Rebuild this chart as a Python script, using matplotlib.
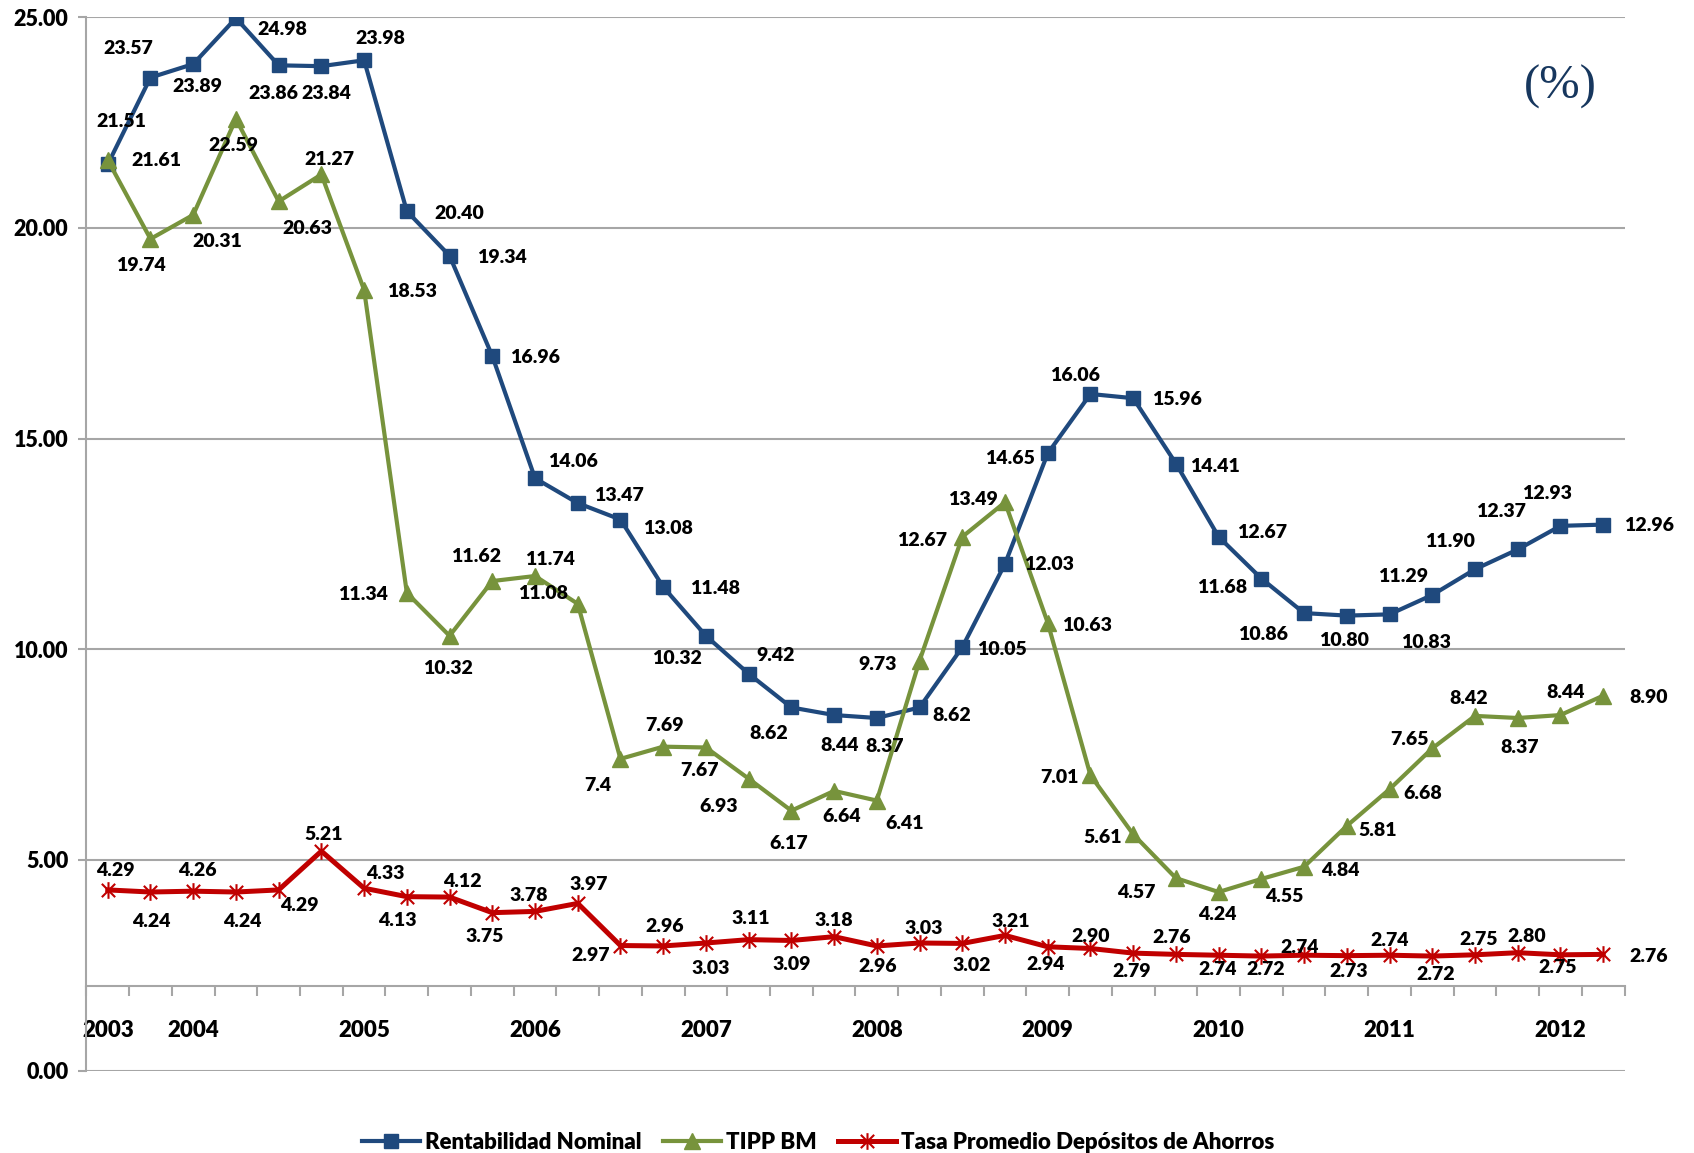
import matplotlib.pyplot as plt
from matplotlib.path import Path

plt.rcParams['font.family'] = ['Lato', 'DejaVu Sans']
plt.rcParams['font.weight'] = 'bold'

# Quarterly series (%)
periods = ['2003', '', '2004', '', '', '', '2005', '', '', '', '2006', '', '', '', '2007', '', '', '',
           '2008', '', '', '', '2009', '', '', '', '2010', '', '', '', '2011', '', '', '', '2012', '']

rentabilidad = [21.51, 23.57, 23.89, 24.98, 23.86, 23.84, 23.98, 20.40, 19.34, 16.96, 14.06, 13.47,
                13.08, 11.48, 10.32, 9.42, 8.62, 8.44, 8.37, 8.62, 10.05, 12.03, 14.65, 16.06,
                15.96, 14.41, 12.67, 11.68, 10.86, 10.80, 10.83, 11.29, 11.90, 12.37, 12.93, 12.96]

tipp = [21.61, 19.74, 20.31, 22.59, 20.63, 21.27, 18.53, 11.34, 10.32, 11.62, 11.74, 11.08,
        7.4, 7.69, 7.67, 6.93, 6.17, 6.64, 6.41, 9.73, 12.67, 13.49, 10.63, 7.01,
        5.61, 4.57, 4.24, 4.55, 4.84, 5.81, 6.68, 7.65, 8.42, 8.37, 8.44, 8.90]

tasa_ahorros = [4.29, 4.24, 4.26, 4.24, 4.29, 5.21, 4.33, 4.13, 4.12, 3.75, 3.78, 3.97,
                2.97, 2.96, 3.03, 3.11, 3.09, 3.18, 2.96, 3.03, 3.02, 3.21, 2.94, 2.90,
                2.79, 2.76, 2.74, 2.72, 2.74, 2.73, 2.74, 2.72, 2.75, 2.80, 2.75, 2.76]

# data label offsets in pixels (dx, dy up)
off_rent = [(14, 43), (-22, 29), (4, -22), (46, -11), (-5, -28), (5, -27), (16, 22), (52, -2), (52, -2),
            (43, -1), (38, 17), (41, 8), (48, -9), (52, -2), (-29, -23), (27, 18), (-23, -26), (6, -30),
            (8, -28), (32, -8), (40, -2), (44, -1), (-38, -5), (-15, 18), (44, -1), (39, -3), (43, 4),
            (-39, -9), (-41, -21), (-3, -25), (36, -28), (-29, 18), (-25, 28), (-17, 38), (-13, 32), (46, -1)]
off_tipp = [(49, 0), (-10, -27), (24, -27), (-3, -27), (29, -27), (8, 15), (48, -2), (-44, -2), (-2, -33),
            (-16, 25), (15, 17), (-35, 10), (-23, -27), (1, 21), (-6, -23), (-30, -28), (-3, -33), (8, -26),
            (28, -23), (-42, -4), (-40, -4), (-32, 3), (39, -3), (-31, -2), (-30, -3), (-40, -14), (-1, -22),
            (23, -18), (36, -4), (31, -5), (33, -4), (-23, 9), (-6, 17), (2, -29), (5, 23), (45, -2)]
off_tasa = [(8, 19), (1, -29), (4, 21), (6, -29), (21, -16), (2, 17), (21, 15), (-9, -24), (13, 16),
            (-8, -24), (-6, 16), (11, 19), (-30, -10), (1, 19), (5, -25), (2, 21), (0, -24), (0, 16),
            (1, -21), (4, 15), (9, -22), (6, 14), (-2, -18), (0, 12), (-2, -18), (-4, 17), (-1, -14),
            (4, -13), (-4, 8), (2, -16), (0, 15), (3, -18), (4, 15), (9, 16), (-3, -13), (46, -2)]

blue = '#1F497D'
green = '#77933C'
red = '#C00000'
grid_c = '#A6A6A6'

# Excel-like star marker: X plus vertical bar
star = Path([(-1, -1), (1, 1), (-1, 1), (1, -1), (0, -1.25), (0, 1.25)],
            [Path.MOVETO, Path.LINETO, Path.MOVETO, Path.LINETO, Path.MOVETO, Path.LINETO])

fig = plt.figure(figsize=(16.94, 11.53), dpi=100)
ax = fig.add_axes([0.051, 0.0714, 0.908, 0.9136])

x = list(range(len(periods)))
ax.plot(x, rentabilidad, color=blue, lw=3.0, marker='s', ms=10, label='Rentabilidad Nominal', zorder=3)
ax.plot(x, tipp, color=green, lw=3.0, marker='^', ms=11, label='TIPP BM', zorder=4)
ax.plot(x, tasa_ahorros, color=red, lw=3.6, marker=star, ms=12, mew=1.5,
        label='Tasa Promedio Depósitos de Ahorros', zorder=5)

for vals, offs in [(rentabilidad, off_rent), (tipp, off_tipp), (tasa_ahorros, off_tasa)]:
    for i, v in enumerate(vals):
        txt = '7.4' if v == 7.4 and vals is tipp else '{:.2f}'.format(v)
        ax.annotate(txt, (i, v), xytext=offs[i], textcoords='offset pixels',
                    ha='center', va='center', fontsize=14, fontweight='heavy', color='black', zorder=6)

ax.set_xlim(-0.5, len(periods) - 0.5)
ax.set_ylim(0, 25)
ax.set_yticks([0, 5, 10, 15, 20, 25])
ax.set_yticklabels(['{:.2f}'.format(t) for t in [0, 5, 10, 15, 20, 25]], fontsize=15.5, fontweight='heavy')
ax.yaxis.grid(True, color=grid_c, lw=1.5)
ax.set_axisbelow(True)
ax.tick_params(axis='y', length=6, color=grid_c, width=1.5, pad=7)

for s in ['top', 'right']:
    ax.spines[s].set_visible(False)
ax.spines['left'].set_color(grid_c)
ax.spines['left'].set_linewidth(1.5)
ax.spines['bottom'].set_position(('data', 2.0))
ax.spines['bottom'].set_color(grid_c)
ax.spines['bottom'].set_linewidth(1.5)

# tick marks on category boundaries, labels at centers
ax.set_xticks([i - 0.5 for i in range(len(periods) + 1)])
ax.set_xticklabels([])
ax.tick_params(axis='x', which='major', direction='out', length=7, color=grid_c, width=1.5)
ax.set_xticks(x, minor=True)
ax.set_xticklabels(periods, minor=True, fontsize=16, fontweight='heavy')
ax.tick_params(axis='x', which='minor', length=0, pad=24)

fig.text(0.921, 0.925, '(%)', fontsize=35, family='Liberation Serif', color='#17375E',
         ha='center', va='center', fontweight='normal')

fig.legend(loc='center', bbox_to_anchor=(0.483, 0.009), ncol=3, frameon=False,
           prop={'size': 16, 'weight': 'heavy'}, handlelength=2.6, columnspacing=1.0, handletextpad=0.2)

fig.savefig('out.png', dpi=100)
